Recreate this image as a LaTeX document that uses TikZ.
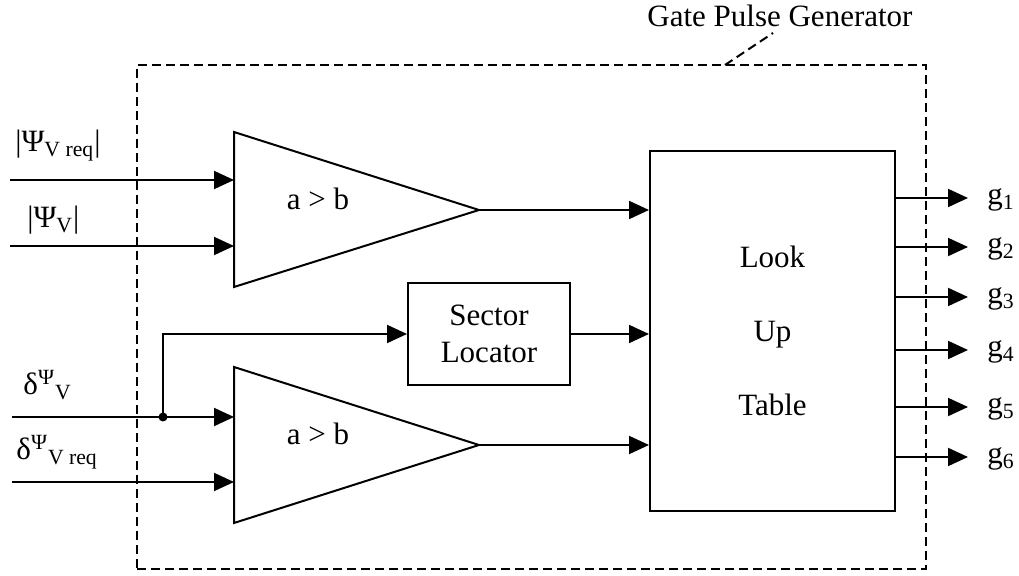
\documentclass[tikz,border=0pt]{standalone}
\usepackage{fontspec}
\setmainfont{Liberation Serif}
\usetikzlibrary{arrows.meta}
\tikzstyle{block} = [rectangle, draw=black, line width=1pt, text centered]
\tikzstyle{comparator} = [draw=black, line width=1pt, line join=miter]
\tikzstyle{signal} = [line width=1pt, -{Triangle[length=10pt,width=9pt]}]
\tikzstyle{groupbox} = [draw=black, line width=1pt, dash pattern=on 4.5pt off 2.5pt]
\tikzstyle{tag} = [anchor=base west, inner sep=0pt]

\begin{document}
\begin{tikzpicture}[x=0.5pt, y=-0.5pt, font=\fontsize{15.5}{18.5}\selectfont]
        \useasboundingbox (0,0) rectangle (1019,576);
        % frame of the pulse generator
        \node (gpg) [groupbox, minimum width=394.5pt, minimum height=252pt, inner sep=0pt] at (531.5,317) {};
        \node (gpg-title) [tag] at (647,27) {Gate Pulse Generator};
        \coordinate (gpg-lead) at (725,65);
        \coordinate (gpg-lead-top) at (773,33);
        \draw [groupbox] (gpg-lead) -- (gpg-lead-top);

        % comparators
        \draw [comparator] (234,132) -- (479,210) coordinate (cmp-a) -- (234,287) -- cycle;
        \node (cmp-a-text) [anchor=base] at (318,210) {a > b};
        \draw [comparator] (234,367) -- (479,445) coordinate (cmp-b) -- (234,523) -- cycle;
        \node (cmp-b-text) [anchor=base] at (318,445) {a > b};
        \coordinate (cmp-a-in1) at (234,180);
        \coordinate (cmp-a-in2) at (234,246);
        \coordinate (cmp-b-in1) at (234,417);
        \coordinate (cmp-b-in2) at (234,482);

        \node (sector) [block, minimum width=81pt, minimum height=51pt, align=center] at (489,334) {Sector\\Locator};
        \node (lut) [block, minimum width=122.5pt, minimum height=180pt, align=center, font=\fontsize{15.5}{37}\selectfont] at (772.5,331) {Look\\Up\\Table};

        % inputs
        \coordinate (psi-req) at (10,180);
        \coordinate (psi) at (10,246);
        \coordinate (del) at (12,417);
        \coordinate (del-req) at (12,482);
        \node (psi-req-lbl) [tag] at (15,152) {|Ψ\textsubscript{V req}|};
        \node (psi-lbl) [tag] at (27,228) {|Ψ\textsubscript{V}|};
        \node (del-lbl) [tag] at (23,395) {δ\textsuperscript{Ψ}\textsubscript{V}};
        \node (del-req-lbl) [tag] at (16,460) {δ\textsuperscript{Ψ}\textsubscript{V req}};

        \draw [signal] (psi-req) -- (cmp-a-in1);
        \draw [signal] (psi) -- (cmp-a-in2);
        \draw [signal] (del) -- (cmp-b-in1);
        \draw [signal] (del-req) -- (cmp-b-in2);

        \coordinate (tap) at (163,417);
        \fill (tap) circle (2.25pt);
        \draw [signal] (tap) |- (sector.west);

        \draw [signal] (cmp-a) -- (cmp-a -| lut.west);
        \draw [signal] (sector.east) -- (sector.east -| lut.west);
        \draw [signal] (cmp-b) -- (cmp-b -| lut.west);

        % gate signals
        \foreach \y [count=\i] in {198,247,297,350,407,457} {
            \coordinate (g\i) at (968,\y);
            \draw [signal] (lut.east |- g\i) -- (g\i);
            \node (g\i-lbl) [tag] at (987,\y+7) {g\textsubscript{\i}};
        }
    \end{tikzpicture}
\end{document}
